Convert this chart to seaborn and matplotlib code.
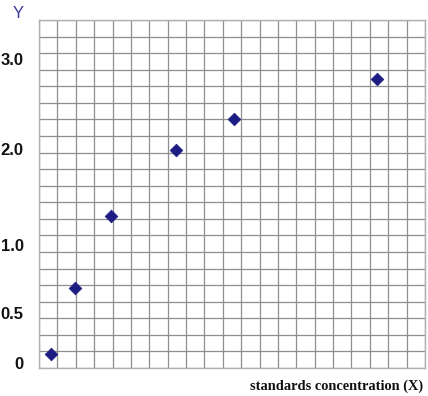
import matplotlib
matplotlib.use('Agg')
import matplotlib.pyplot as plt
import seaborn as sns
import pandas as pd

# --- data (in grid squares) ---
conc = [0.64, 1.95, 3.94, 7.46, 10.6, 18.4]
absorb = [0.84, 4.83, 9.17, 13.16, 15.03, 17.44]

y_tick_pos = [0.3, 3.32, 7.42, 13.2, 18.65]
y_tick_labels = ['0', '0.5', '1.0', '2.0', '3.0']

n_cols = 21
n_rows = 21

df = pd.DataFrame({'x': conc, 'y': absorb})

sns.set_style('white')

fig = plt.figure(figsize=(4.28, 3.96), dpi=100)
ax = fig.add_axes([39 / 428, 1 - 368 / 396, (425 - 39) / 428, (368 - 20) / 396])

sns.scatterplot(data=df, x='x', y='y', marker='D', s=42, color='#1c1c82',
                edgecolor='#1c1c82', linewidth=0.5, ax=ax, zorder=3)

ax.set_xlim(0, n_cols)
ax.set_ylim(0, n_rows)

# grid squares on minor ticks, labels on major ticks
ax.set_xticks(range(n_cols + 1), minor=True)
ax.set_yticks(range(n_rows + 1), minor=True)
ax.set_xticks([])
ax.set_yticks(y_tick_pos)
ax.set_yticklabels(y_tick_labels, fontweight='bold', fontsize=12,
                   family='Liberation Sans', color='#111111')
ax.tick_params(axis='y', which='major', length=0, pad=11)
ax.tick_params(which='minor', length=0)
ax.grid(which='minor', color='#8f8f8f', linewidth=0.9)
ax.grid(which='major', visible=False)
for s in ax.spines.values():
    s.set_color('#b0b0b0')
    s.set_linewidth(1.0)

ax.set_xlabel('')
ax.set_ylabel('')

fig.text(18 / 428, 1 - 14 / 396, 'Y', color='#3b3b9b', fontsize=12,
         family='Liberation Sans', ha='center', va='center')
fig.text(423 / 428, 1 - 386 / 396, 'standards concentration (X)',
         family='Liberation Serif', fontweight='bold', fontsize=10.4,
         ha='right', va='center', color='#111111')

fig.savefig('out.png', dpi=100)
